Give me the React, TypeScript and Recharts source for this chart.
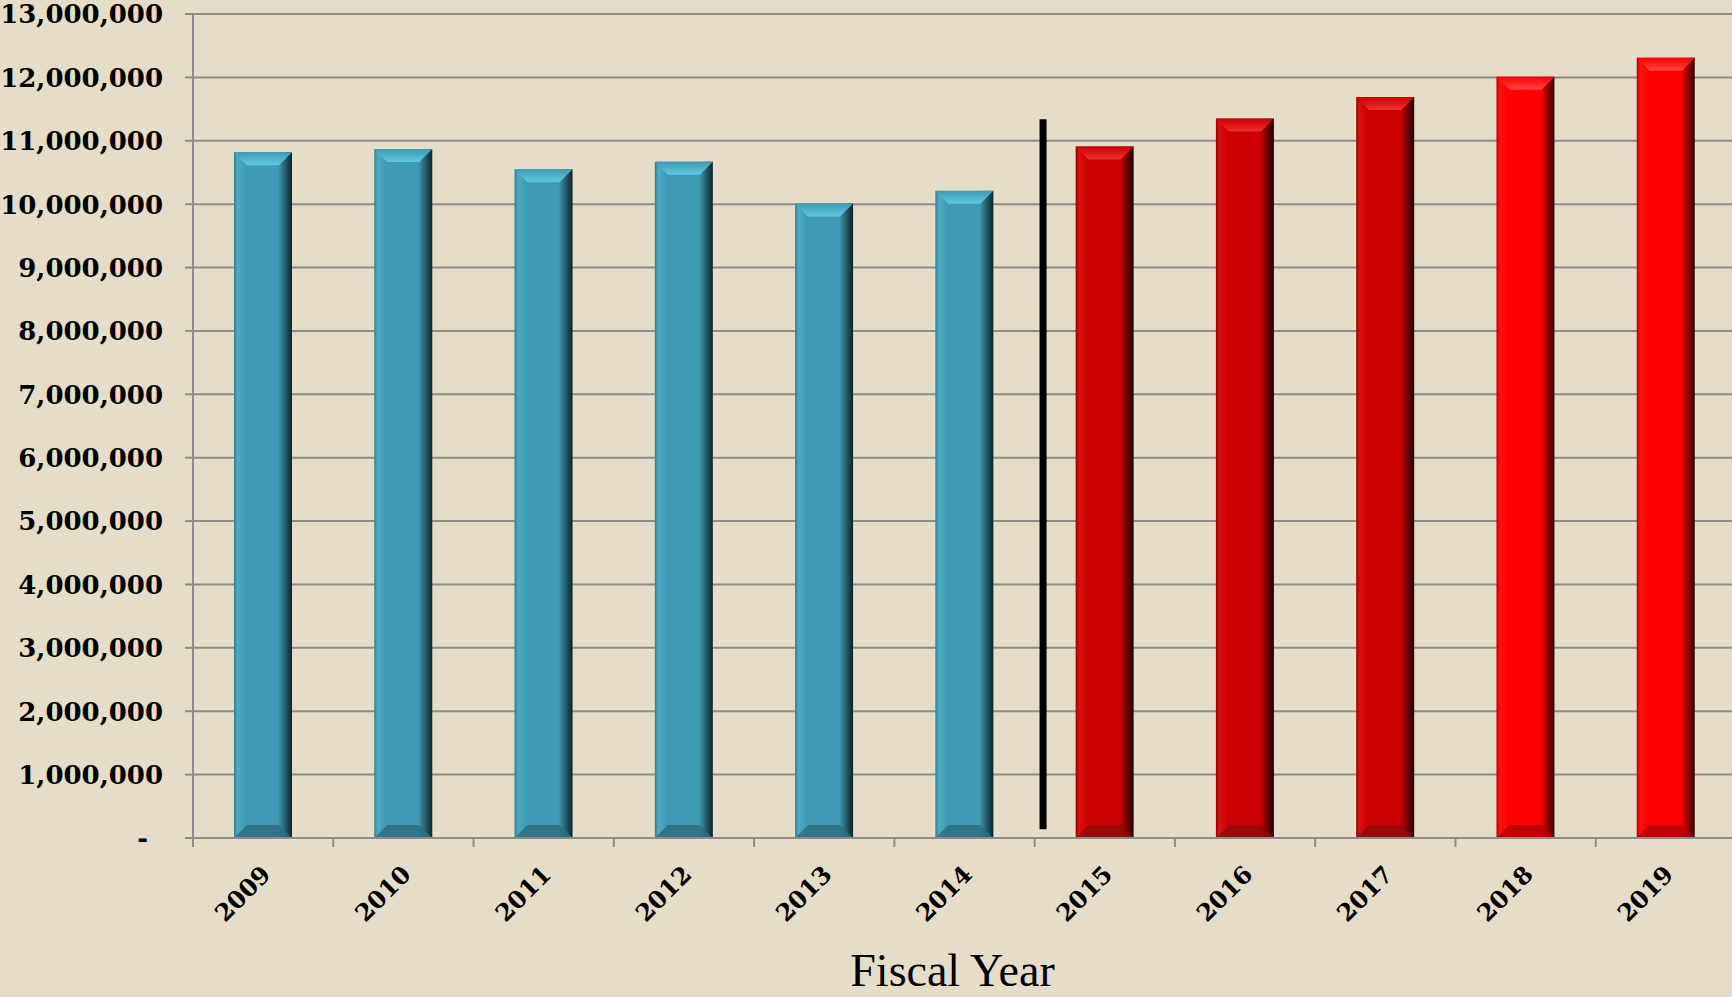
import React from "react";
import { BarChart, Bar, XAxis, YAxis, CartesianGrid, ReferenceLine } from "recharts";

const years = ["2009", "2010", "2011", "2012", "2013", "2014", "2015", "2016", "2017", "2018", "2019"];
const totals = [10820000, 10870000, 10550000, 10670000, 10010000, 10210000, 10910000, 11350000, 11690000, 12010000, 12310000];
const status = ["actual", "actual", "actual", "actual", "actual", "actual", "projected", "projected", "projected", "forecast", "forecast"];
const yTicks = [0, 1000000, 2000000, 3000000, 4000000, 5000000, 6000000, 7000000, 8000000, 9000000, 10000000, 11000000, 12000000, 13000000];

// divider between actual and projected years, in category units / axis values
const dividerAt = 6.06;
const dividerFrom = 140000;
const dividerTo = 11340000;

const W = 1736;
const H = 997;
const yAxisWidth = 193;
const bandWidth = (W - yAxisWidth) / years.length;
const grid = "#8C8C8C";
const bg = "#E5DDC8";

const palette: Record<string, any> = {
  actual: { base: "#3E9BB3", edge: "#2E7F93", hi: "#4DAAC2", dark: "#0C2328", top: "#62C7E2", bottom: "#2C6E80" },
  projected: { base: "#CC0000", edge: "#9A0000", hi: "#D81010", dark: "#200000", top: "#F03030", bottom: "#8E0A0A" },
  forecast: { base: "#FF0000", edge: "#C00000", hi: "#FF1010", dark: "#300000", top: "#FF4545", bottom: "#B00000" },
};

const data = years.map((year, i) => ({ year, slot: i + 0.5, total: totals[i], status: status[i] }));

function BevelBar(props: any) {
  const { x, y, width, height, payload } = props;
  if (!height || height <= 0) return null;
  const c = palette[payload.status];
  const b = Math.min(13, height / 2);
  const side = `side-${payload.status}`;
  const top = `top-${payload.status}`;
  return (
    <g>
      <defs>
        <linearGradient id={side} x1="0" y1="0" x2="1" y2="0">
          <stop offset="0" stopColor={c.edge} />
          <stop offset="0.06" stopColor={c.hi} />
          <stop offset="0.2" stopColor={c.base} />
          <stop offset="0.76" stopColor={c.base} />
          <stop offset="1" stopColor={c.dark} />
        </linearGradient>
        <linearGradient id={top} x1="0" y1="0" x2="0" y2="1">
          <stop offset="0" stopColor={c.base} />
          <stop offset="1" stopColor={c.top} />
        </linearGradient>
      </defs>
      <rect x={x} y={y} width={width} height={height} fill={`url(#${side})`} />
      <polygon
        points={`${x},${y} ${x + width},${y} ${x + width - b},${y + b} ${x + b},${y + b}`}
        fill={`url(#${top})`}
      />
      <polygon
        points={`${x + b},${y + height - b} ${x + width - b},${y + height - b} ${x + width},${y + height} ${x},${y + height}`}
        fill={c.bottom}
        opacity={0.85}
      />
    </g>
  );
}

function ValueTick(props: any) {
  const { x, y, payload } = props;
  const zero = payload.value === 0;
  return (
    <text
      x={x}
      y={y}
      dx={zero ? -15 : 0}
      dy="0.36em"
      textAnchor="end"
      fontFamily="DejaVu Serif"
      fontWeight="bold"
      fontSize={26}
      fill="#000"
    >
      {zero ? "-" : payload.value.toLocaleString("en-US")}
    </text>
  );
}

function YearTick(props: any) {
  const { x, y, payload } = props;
  const left = x - bandWidth / 2;
  return (
    <g>
      <line x1={left} y1={y} x2={left} y2={y + 9} stroke={grid} strokeWidth={2} />
      <text
        x={x + 9}
        y={y + 38}
        transform={`rotate(-45 ${x + 9} ${y + 38})`}
        textAnchor="end"
        fontFamily="DejaVu Serif"
        fontWeight="bold"
        fontSize={24}
        fill="#000"
      >
        {payload.value}
      </text>
    </g>
  );
}

export default function App() {
  return (
    <div style={{ position: "absolute", left: 0, top: 0, width: 1732, height: H, overflow: "hidden", background: bg }}>
      <BarChart width={W} height={H} data={data} margin={{ top: 14, right: 0, bottom: 0, left: 0 }}>
        <CartesianGrid vertical={false} stroke={grid} strokeWidth={2} xAxisId="cat" />
        <XAxis
          xAxisId="cat"
          dataKey="year"
          height={159}
          tickLine={false}
          tickSize={0}
          tickMargin={0}
          interval={0}
          axisLine={{ stroke: grid, strokeWidth: 2 }}
          tick={<YearTick />}
          label={{
            value: "Fiscal Year",
            position: "insideBottom",
            offset: 11,
            dx: -12,
            style: { fontFamily: "Liberation Serif", fontSize: 46, fill: "#000" },
          }}
        />
        <XAxis
          xAxisId="num"
          dataKey="slot"
          type="number"
          domain={[0, years.length]}
          allowDataOverflow
          hide
        />
        <YAxis
          width={yAxisWidth}
          domain={[0, 13000000]}
          ticks={yTicks}
          interval={0}
          tickSize={8}
          tickMargin={22}
          tickLine={{ stroke: grid, strokeWidth: 2 }}
          axisLine={{ stroke: grid, strokeWidth: 2 }}
          tick={<ValueTick />}
        />
        <Bar xAxisId="cat" dataKey="total" barSize={58} shape={<BevelBar />} isAnimationActive={false} />
        <ReferenceLine
          xAxisId="num"
          segment={[
            { x: dividerAt, y: dividerFrom },
            { x: dividerAt, y: dividerTo },
          ]}
          stroke="#000"
          strokeWidth={7}
        />
      </BarChart>
    </div>
  );
}
